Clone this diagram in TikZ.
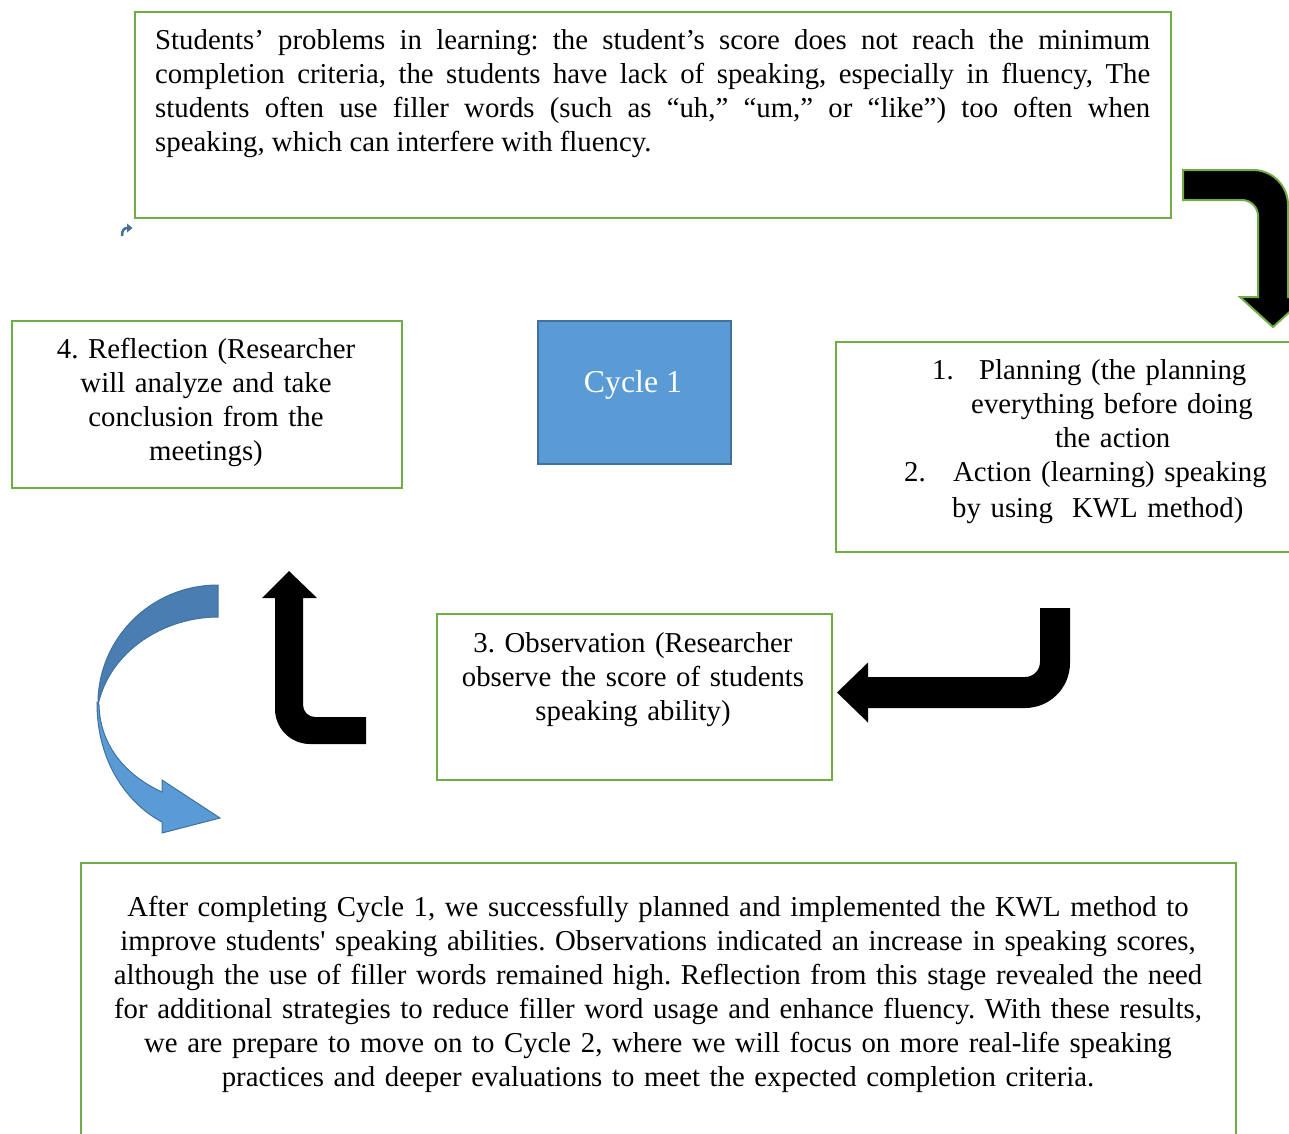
\documentclass[tikz,border=0pt]{standalone}
\usepackage{fontspec}
\setmainfont{Liberation Serif}
\usepackage{tikz}
\usetikzlibrary{calc}
\definecolor{boxgreen}{HTML}{70AD47}
\definecolor{cyclefill}{HTML}{5B9BD5}
\definecolor{cycleline}{HTML}{41719C}
\definecolor{bluedark}{HTML}{4A7DB1}
\frenchspacing
\tikzset{
  frame/.style={draw=boxgreen, line width=2.2pt, inner sep=0pt, anchor=north west},
  words/.style={inner sep=0pt, anchor=base, align=center},
  blockarrow/.style={fill=black, line join=miter}
}
\begin{document}
\begin{tikzpicture}[x=1pt, y=-1pt, font=\fontsize{28.8}{34}\selectfont]
		%%%%% START %%%%%
		\useasboundingbox (0, 0) rectangle (1289, 1133);
		\clip (0, 0) rectangle (1289, 1133);
		
		% problem box
		\node[frame, minimum width=1036pt, minimum height=206pt] (problem) at (134, 11) {};
		\node[words, anchor=base west, text width=995pt, align=justify] (problemtext) at (155, 49)
		{Students’ problems in learning: the student’s score does not reach the minimum\linebreak
		completion criteria, the students have lack of speaking, especially in fluency, The\linebreak
		students often use filler words (such as “uh,” “um,” or “like”) too often when\linebreak
		speaking, which can interfere with fluency.};
		
		% small icon
		\draw[cycleline, line width=2.5pt] (122, 236) .. controls (122, 230) and (124, 228) .. (127.5, 228);
		\fill[cycleline] (127, 223.5) -- (132.5, 228) -- (127, 232.5) -- cycle;
		
		% reflection
		\node[frame, minimum width=390pt, minimum height=167pt] (reflection) at (11, 320) {};
		\node[words, text width=380pt] (reflectiontext) at (206, 358)
		{4. Reflection (Researcher\\ will analyze and take\\ conclusion from the\\ meetings)};
		
		% cycle
		\node[fill=cyclefill, draw=cycleline, line width=2pt, minimum width=193pt, minimum height=143pt, anchor=north west] (cycle) at (537, 320) {};
		\node[words, text=white, font=\fontsize{31.8}{34}\selectfont] (cycletext) at (633, 392) {Cycle 1};
		
		% planning + action
		\node[frame, minimum width=470pt, minimum height=210pt] (planning) at (835, 341) {};
		\node[words, anchor=base west, text width=400pt, align=left] (planningtext) at (904, 379)
		{\hspace*{28pt}\makebox[47pt][l]{1.}Planning (the planning\\
		\hspace*{67pt}everything before doing\\
		\hspace*{151pt}the action\\
		\makebox[49pt][l]{2.}Action (learning) speaking\\[2pt]
		\hspace*{48pt}by using\ \ KWL method)};
		
		% observation
		\node[frame, minimum width=395pt, minimum height=166pt] (observation) at (436, 613) {};
		\node[words, text width=385pt] (observationtext) at (633, 652)
		{3. Observation (Researcher\\ observe the score of students\\ speaking ability)};
		
		% conclusion
		\node[frame, minimum width=1155pt, minimum height=290pt] (summary) at (80, 862) {};
		\node[words, text width=1140pt] (summarytext) at (658, 916)
		{After completing Cycle 1, we successfully planned and implemented the KWL method to\\
		improve students\textquotesingle\ speaking abilities. Observations indicated an increase in speaking scores,\\
		although the use of filler words remained high. Reflection from this stage revealed the need\\
		for additional strategies to reduce filler word usage and enhance fluency. With these results,\\
		we are prepare to move on to Cycle 2, where we will focus on more real-life speaking\\
		practices and deeper evaluations to meet the expected completion criteria.};
		
		% arrow problem -> planning
		\draw[blockarrow, draw=boxgreen, line width=2pt] (1183, 170) -- (1253, 170)
			.. controls (1272.3, 170) and (1288, 185.7) .. (1288, 205) -- (1288, 297)
			-- (1306, 297) -- (1273, 327) -- (1240, 297) -- (1258, 297) -- (1258, 216)
			.. controls (1258, 207.2) and (1250.8, 200) .. (1242, 200) -- (1183, 200) -- cycle;
		
		% arrow planning -> observation
		\fill[blockarrow] (1040, 608) -- (1070, 608) -- (1070, 663)
			.. controls (1070, 687.8) and (1049.9, 708) .. (1025, 708) -- (868, 708)
			-- (868, 722.5) -- (837, 692.5) -- (868, 662.5) -- (868, 677) -- (1025, 677)
			.. controls (1033.3, 677) and (1040, 670.3) .. (1040, 662) -- cycle;
		
		% arrow observation -> reflection
		\fill[blockarrow] (289, 571) -- (317, 598) -- (303, 598) -- (303, 705)
			.. controls (303, 711.6) and (308.4, 717) .. (315, 717) -- (366, 717) -- (366, 744)
			-- (310, 744) .. controls (290.7, 744) and (275, 728.3) .. (275, 709)
			-- (275, 598) -- (262, 598) -- cycle;
		
		% curved arrow reflection -> summary
		\draw[fill=bluedark, draw=cycleline, line width=1pt] (218, 585) -- (218, 617)
			.. controls (165, 617) and (110, 650) .. (98, 705)
			.. controls (97, 640) and (150, 585) .. (218, 585) -- cycle;
		\draw[fill=cyclefill, draw=cycleline, line width=1pt] (97, 703)
			.. controls (97, 765) and (130, 805) .. (162, 822) -- (162, 833) -- (220, 818)
			-- (162, 780) -- (162, 792) .. controls (125, 775) and (100, 745) .. (99, 705) -- cycle;
		%%%%% END %%%%%
	\end{tikzpicture}
\end{document}
